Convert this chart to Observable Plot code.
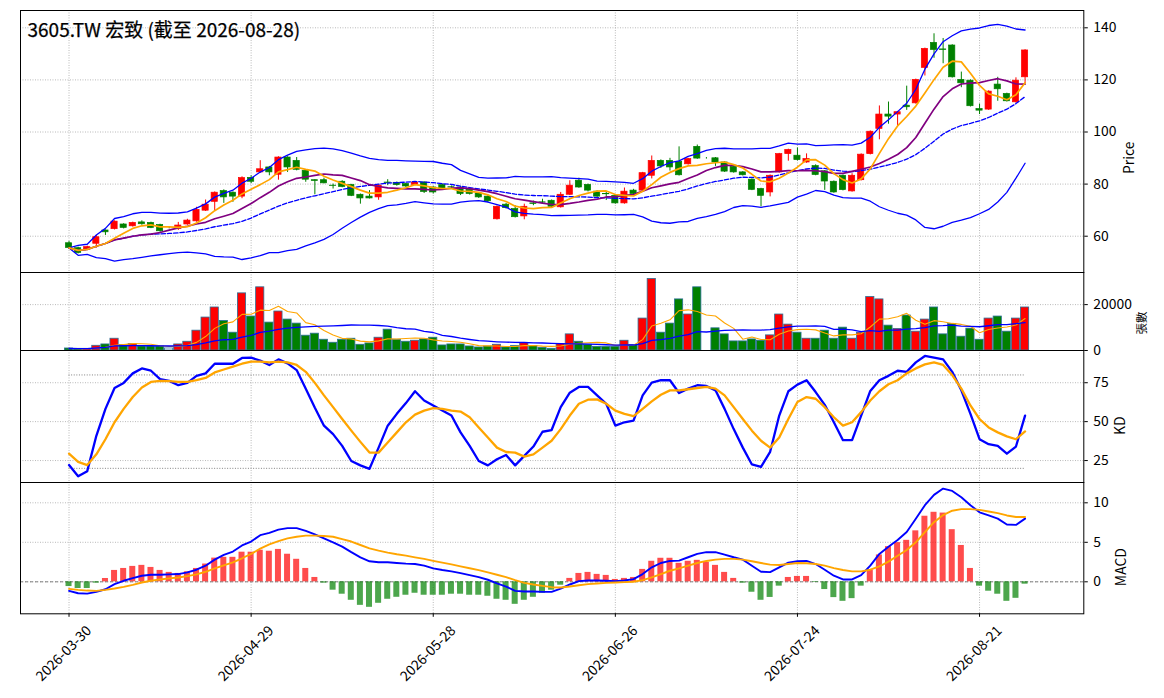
<!DOCTYPE html>
<html><head><meta charset="utf-8">
<script src="https://cdn.jsdelivr.net/npm/d3@7"></script>
<script src="https://cdn.jsdelivr.net/npm/@observablehq/plot@0.6"></script>
<style>
body{margin:0;background:#fff;}
#wrap{position:relative;width:1164px;height:698px;font-family:"Noto Sans CJK TC",sans-serif;}
#wrap > div{position:absolute;left:0;}
svg{overflow:visible;}
</style></head><body><div id="wrap"></div>
<script>
const title = "3605.TW 宏致 (截至 2026-08-28)";
const tickIndex = [0, 20, 40, 60, 80, 100];
const tickLabels = ["2026-03-30", "2026-04-29", "2026-05-28", "2026-06-26", "2026-07-24", "2026-08-21"];

const openP = [57.3,55.4,54.9,57.1,62.2,62.7,64.5,63.8,65.3,65.1,64.3,63.1,62.8,64.5,65.7,69.8,73.2,77.3,76.7,75.2,
  82.4,84.5,86.4,83.6,90.2,88.9,85.1,81.5,81.5,79.4,80.9,79.6,75.9,75.2,74.9,80.6,80.5,80.0,79.7,80.6,
  78.7,79.6,78.8,78.7,77.8,76.4,75.2,66.5,72.1,70.4,67.6,72.6,73.0,73.6,71.1,75.9,81.3,79.7,77.1,76.2,
  75.5,72.6,77.5,77.5,83.2,88.9,88.9,88.5,87.6,94.3,89.9,89.9,88.3,86.6,84.5,81.7,78.1,76.8,84.5,91.5,
  90.9,88.3,86.9,84.9,80.9,83.2,77.2,81.5,91.5,101.2,106.7,106.7,110.1,111.0,124.6,134.2,131.7,133.2,120.0,119.7,
  108.8,108.6,118.2,114.6,111.4,121.0];
const highP = [58.0,55.8,56.2,60.3,62.4,65.9,64.8,65.4,65.9,65.4,64.6,63.4,65.3,66.5,71.1,73.9,77.0,77.8,77.0,82.8,
  83.2,89.0,86.8,90.5,90.5,90.2,85.4,81.7,82.3,80.0,81.3,79.9,76.2,77.5,79.7,81.7,80.8,80.3,80.9,80.9,
  79.0,80.0,79.3,79.0,78.1,76.7,75.5,71.6,72.6,71.7,72.3,73.5,74.2,73.9,76.8,81.3,82.3,80.0,77.4,76.8,
  75.8,78.5,78.0,84.5,90.8,89.3,89.9,94.3,89.9,95.0,90.2,90.2,88.6,86.9,84.8,82.0,78.4,83.5,91.8,93.4,
  93.9,91.6,87.4,85.2,81.2,83.5,84.0,91.6,100.4,110.0,111.5,107.9,117.6,120.3,132.2,137.7,135.9,133.5,123.0,120.0,
  110.7,115.8,121.0,114.9,120.8,131.6];
const lowP = [55.0,53.2,54.6,55.4,60.3,62.4,62.8,63.5,64.2,62.9,61.5,62.8,62.2,64.2,65.4,69.5,69.8,72.6,73.0,74.4,
  80.2,84.2,83.2,81.5,84.5,85.1,80.7,75.9,80.1,78.1,78.6,75.2,72.3,74.3,73.8,79.4,79.2,78.7,79.4,76.4,
  76.2,77.6,78.2,75.6,75.8,74.5,72.9,66.2,70.4,67.0,66.3,71.7,72.4,71.0,70.8,75.6,78.4,77.0,74.9,73.7,
  72.3,72.3,75.9,77.2,82.0,86.0,85.0,83.1,87.3,89.5,89.6,86.8,84.5,84.2,83.1,77.5,71.3,75.1,84.2,88.8,
  88.9,88.0,83.2,77.6,76.5,77.4,76.9,81.2,91.2,97.0,103.0,102.5,108.3,110.7,121.5,128.3,126.2,120.7,117.0,109.6,
  106.7,108.3,111.8,111.5,111.1,118.5];
const closeP = [55.5,53.6,55.8,59.6,61.5,65.6,63.2,65.1,64.6,63.2,61.9,63.1,64.1,66.0,70.1,72.1,76.7,74.9,75.2,82.3,
  80.9,85.7,84.5,90.2,86.4,85.5,81.7,81.2,80.3,79.3,78.9,75.5,74.5,74.5,79.4,80.4,79.6,79.1,80.6,77.0,
  76.8,78.1,78.7,76.2,76.2,74.9,73.4,71.3,70.8,67.3,71.3,72.4,72.9,71.3,75.9,79.4,78.7,77.5,75.2,76.1,
  72.6,77.1,76.2,84.2,88.9,86.8,86.4,83.4,89.6,89.8,89.9,88.3,84.8,84.5,83.4,77.8,75.5,83.2,91.5,93.1,
  89.2,89.6,83.5,81.0,76.8,77.7,83.2,91.3,100.1,106.7,105.9,107.6,109.5,120.0,131.9,131.5,131.5,121.0,118.7,109.9,
  108.2,115.5,116.4,111.8,119.7,131.3];
const volume = [880,730,730,2050,2640,5130,2340,2780,1760,1760,1760,880,2640,3810,8640,14360,18750,12890,7760,24900,
  14800,27540,12160,16990,13480,11720,6450,7330,4690,3370,4690,5130,2490,3080,5570,9080,4690,3810,4250,4830,
  5570,2200,2640,2640,1760,1320,1760,2490,1320,1900,3220,1900,1170,730,2780,7030,3810,2490,1610,1610,
  1610,4250,2340,13920,31200,7760,11720,22270,15680,27540,0,9670,7030,3960,3960,4830,4250,6590,15680,11280,
  7760,5130,5130,8640,5130,9960,5130,7760,23290,22270,10840,9380,15240,8200,13480,18750,7030,11570,6010,9520,
  4690,13920,14800,8200,13920,18750];
const kLine = [22.1,14.9,18.2,40.9,58.2,71.6,74.9,81.0,84.2,82.7,77.3,76.2,73.4,74.9,79.4,81.0,87.2,87.2,87.2,90.9,
  91.1,89.2,86.4,90.0,87.4,83.1,71.2,58.9,47.4,42.0,34.4,24.7,21.9,19.7,33.3,47.4,55.0,61.9,69.5,63.6,
  60.4,57.1,53.9,43.1,34.4,24.7,21.9,25.8,28.6,21.9,28.0,34.0,43.5,44.6,59.3,68.6,72.3,72.3,66.9,61.5,
  47.4,49.6,50.6,66.9,75.1,76.6,76.6,68.4,71.2,73.4,72.9,70.1,58.2,45.2,33.3,22.5,21.0,30.6,53.9,69.5,
  73.8,76.6,69.0,60.8,49.6,38.1,38.1,53.9,69.7,76.6,79.4,82.7,82.0,88.1,92.2,91.1,90.0,82.0,70.1,55.0,
  38.7,35.5,34.4,29.4,34.0,53.9];
const dLine = [29.4,24.2,22.1,29.0,38.7,49.6,58.2,65.8,71.9,75.5,76.2,76.0,75.5,75.5,76.6,78.1,81.6,83.5,85.3,87.2,
  88.5,88.5,88.1,88.5,88.1,86.4,82.0,74.9,66.9,59.3,51.7,44.2,37.0,30.1,30.1,36.6,43.1,49.6,54.5,57.1,
  58.7,58.2,57.1,56.5,52.8,46.3,39.8,33.3,30.5,30.1,27.5,29.0,33.3,37.7,45.2,53.9,61.5,64.1,64.3,61.5,
  57.1,55.0,53.5,58.2,63.0,67.3,70.1,70.1,70.8,71.6,72.3,71.2,66.9,59.3,51.7,44.2,37.7,33.3,39.8,51.7,
  62.6,65.8,64.7,59.3,52.8,47.4,49.6,56.1,63.6,69.5,74.0,76.6,81.0,84.2,86.8,88.1,86.4,79.9,71.2,60.4,
  51.7,46.3,43.1,40.5,38.7,43.7];
const macdDif = [-1.15,-1.45,-1.49,-1.28,-0.94,-0.30,0.13,0.47,0.77,0.89,0.89,0.94,0.98,1.19,1.53,2.04,2.81,3.40,3.83,4.6,
  5.1,5.9,6.2,6.6,6.8,6.8,6.45,6.0,5.5,5.0,4.45,3.75,3.1,2.6,2.47,2.47,2.38,2.30,2.25,2.04,
  1.70,1.49,1.32,1.1,0.85,0.6,0.26,-0.21,-0.6,-1.15,-1.23,-1.23,-1.28,-1.28,-0.85,-0.34,0.09,0.17,0.17,0.13,
  0.09,0.17,0.34,0.98,1.83,2.38,2.64,2.68,3.11,3.53,3.75,3.75,3.45,3.11,2.81,2.04,1.28,1.23,1.83,2.43,
  2.6,2.64,2.25,1.53,0.77,0.30,0.30,0.85,2.04,3.53,4.45,5.29,6.3,7.98,9.7,11.0,11.8,11.5,10.7,9.7,
  8.8,8.4,8.0,7.25,7.2,8.0];
const macdSignal = [-0.89,-1.02,-1.11,-1.15,-1.02,-0.85,-0.64,-0.38,-0.09,0.13,0.30,0.43,0.55,0.72,0.94,1.27,1.69,2.08,2.47,2.98,
  3.53,4.2,4.75,5.16,5.5,5.7,5.85,5.85,5.8,5.7,5.4,5.1,4.66,4.24,3.95,3.70,3.49,3.32,3.1,2.9,
  2.65,2.42,2.2,1.95,1.72,1.48,1.2,0.89,0.6,0.21,-0.13,-0.34,-0.51,-0.68,-0.72,-0.6,-0.43,-0.30,-0.21,-0.13,
  -0.09,-0.04,0.0,0.21,0.55,0.98,1.40,1.70,2.04,2.38,2.64,2.81,2.9,2.9,2.81,2.6,2.38,2.17,2.13,2.25,
  2.38,2.34,2.25,2.04,1.74,1.49,1.32,1.32,1.53,1.96,2.55,3.3,4.03,5.0,6.3,7.55,8.45,9.0,9.2,9.2,
  9.1,8.9,8.7,8.4,8.2,8.2];
const macdHist = [-0.6,-0.85,-0.85,-0.17,0.42,1.44,1.69,1.95,2.08,1.82,1.44,1.19,1.06,1.27,1.69,2.25,3.0,3.1,3.1,3.75,
  3.75,4.0,3.87,4.1,3.49,2.85,1.69,0.55,-0.17,-1.06,-1.57,-2.34,-2.98,-3.23,-2.72,-2.21,-1.96,-1.70,-1.45,-1.70,
  -1.70,-1.70,-1.57,-1.57,-1.70,-1.70,-1.83,-2.21,-2.34,-2.85,-2.34,-1.96,-1.45,-1.06,-0.43,0.43,1.06,1.19,0.94,0.81,
  0.30,0.43,0.55,1.57,2.6,2.98,2.98,2.34,2.6,2.72,2.47,2.08,1.19,0.43,-0.17,-1.32,-2.34,-1.98,-0.55,0.55,
  0.68,0.68,-0.08,-0.98,-2.0,-2.47,-2.13,-0.55,1.49,3.4,4.45,4.96,5.25,6.45,8.3,8.8,8.7,6.6,4.6,1.69,
  -0.55,-1.19,-1.57,-2.47,-2.09,-0.3];

// moving averages / Bollinger bands computed from the closes (expanding window at the start)
function sma(arr, n) { return arr.map((_, i) => d3.mean(arr.slice(Math.max(0, i - n + 1), i + 1))); }
function pstd(arr, n) {
  return arr.map((_, i) => { const s = arr.slice(Math.max(0, i - n + 1), i + 1); const m = d3.mean(s);
    return Math.sqrt(d3.mean(s, v => (v - m) * (v - m))); });
}
const ma5 = sma(closeP, 5), ma10 = sma(closeP, 10), ma20 = sma(closeP, 20), sd20 = pstd(closeP, 20);
const vma5 = sma(volume, 5), vma20 = sma(volume, 20);

const rows = closeP.map((c, i) => ({
  i, o: openP[i], h: highP[i], l: lowP[i], c, v: volume[i],
  ma5: ma5[i], ma10: ma10[i], ma20: ma20[i], up: ma20[i] + 2 * sd20[i], dn: ma20[i] - 2 * sd20[i],
  vma5: vma5[i], vma20: vma20[i], k: kLine[i], d: dLine[i], dif: macdDif[i], sig: macdSignal[i], hist: macdHist[i]
}));

const RED = "#ff0000", GREEN = "#008000";
const candleColor = d => d.c > d.o ? RED : GREEN;
const volColor = d => d.c > d.o ? RED : d.c < d.o ? GREEN : "#ffffff";
const FONT = "'Noto Sans CJK TC', 'Noto Sans', sans-serif";
const xDom = [-5.33, 111.45];
const gridStyle = {stroke: "#a8a8a8", strokeOpacity: 1, strokeDasharray: "0.9,1.6", strokeWidth: 0.9};
const common = {
  width: 1164, marginLeft: 20, marginRight: 80.7,
  style: {fontFamily: FONT, fontSize: "13.9px", background: "transparent", overflow: "visible", color: "#000"}
};
const yAxis = (ticks, fmt) => Plot.axisY(ticks, {anchor: "right", tickSize: 3.5, tickPadding: 6, label: null,
  tickFormat: fmt || (d => String(d)), fontSize: 13.9});
const sideLabel = (txt, dx, size) => Plot.text([txt], {frameAnchor: "right", dx, rotate: -90, fontSize: size || 13.9, fill: "#000"});

const pricePlot = Plot.plot({
  ...common, height: 272, marginTop: 10, marginBottom: 0,
  x: {type: "linear", domain: xDom, axis: null},
  y: {type: "linear", domain: [46.07, 146.64]},
  marks: [
    Plot.gridX(tickIndex, gridStyle),
    Plot.gridY([60, 80, 100, 120, 140], gridStyle),
    Plot.ruleX(rows, {x: "i", y1: "l", y2: "h", stroke: candleColor, strokeWidth: 1}),
    Plot.rect(rows, {x1: d => d.i - 0.34, x2: d => d.i + 0.34, y1: "o", y2: "c", fill: candleColor, stroke: candleColor, strokeWidth: 0.7}),
    Plot.line(rows, {x: "i", y: "up", stroke: "#0000ff", strokeWidth: 1.3}),
    Plot.line(rows, {x: "i", y: "dn", stroke: "#0000ff", strokeWidth: 1.3}),
    Plot.line(rows, {x: "i", y: "ma20", stroke: "#0000ff", strokeWidth: 1.3, strokeDasharray: "4.4,1.9"}),
    Plot.line(rows, {x: "i", y: "ma10", stroke: "#800080", strokeWidth: 1.7}),
    Plot.line(rows, {x: "i", y: "ma5", stroke: "#ffa500", strokeWidth: 1.7}),
    yAxis([60, 80, 100, 120, 140]),
    Plot.frame({stroke: "#000", strokeWidth: 1}),
    Plot.text([title], {frameAnchor: "top-left", dx: 7, dy: 12.5, textAnchor: "start", lineAnchor: "top", fontSize: 19, fontWeight: 400, stroke: "#000", strokeWidth: 0.25, fill: "#000"}),
    sideLabel("Price", 46)
  ]
});

const volPlot = Plot.plot({
  ...common, height: 78, marginTop: 0, marginBottom: 0,
  x: {type: "linear", domain: xDom, axis: null},
  y: {type: "linear", domain: [0, 34000]},
  marks: [
    Plot.gridX(tickIndex, gridStyle),
    Plot.gridY([0, 20000], gridStyle),
    Plot.rect(rows.filter(d => d.v > 0), {x1: d => d.i - 0.45, x2: d => d.i + 0.45, y1: 0, y2: "v", fill: volColor, stroke: "#2a6f97", strokeWidth: 0.8}),
    Plot.line(rows, {x: "i", y: "vma5", stroke: "#ffa500", strokeWidth: 1.1}),
    Plot.line(rows, {x: "i", y: "vma20", stroke: "#0000ff", strokeWidth: 1.3}),
    yAxis([0, 20000]),
    Plot.frame({stroke: "#000", strokeWidth: 1}),
    sideLabel("張數", 59, 11.5)
  ]
});

const kdPlot = Plot.plot({
  ...common, height: 132, marginTop: 0, marginBottom: 0,
  x: {type: "linear", domain: xDom, axis: null},
  y: {type: "linear", domain: [10.9, 95.7]},
  marks: [
    Plot.gridX(tickIndex, gridStyle),
    Plot.gridY([25, 50, 75], gridStyle),
    Plot.ruleY([80, 20], {x1: 0, x2: 105, stroke: "#808080", strokeDasharray: "1,1.6", strokeWidth: 1}),
    Plot.line(rows, {x: "i", y: "k", stroke: "#0000ff", strokeWidth: 2.3}),
    Plot.line(rows, {x: "i", y: "d", stroke: "#ffa500", strokeWidth: 2.3}),
    yAxis([25, 50, 75]),
    Plot.frame({stroke: "#000", strokeWidth: 1}),
    sideLabel("KD", 37)
  ]
});

const macdPlot = Plot.plot({
  ...common, height: 216, marginTop: 0, marginBottom: 84.7,
  x: {type: "linear", domain: xDom},
  y: {type: "linear", domain: [-4.05, 12.57]},
  marks: [
    Plot.gridX(tickIndex, gridStyle),
    Plot.gridY([0, 5, 10], gridStyle),
    Plot.ruleY([0], {stroke: "#808080", strokeDasharray: "3,2", strokeWidth: 1}),
    Plot.rect(rows, {x1: d => d.i - 0.33, x2: d => d.i + 0.33, y1: 0, y2: "hist", fill: d => d.hist >= 0 ? RED : GREEN, fillOpacity: 0.7}),
    Plot.line(rows, {x: "i", y: "dif", stroke: "#0000ff", strokeWidth: 1.9}),
    Plot.line(rows, {x: "i", y: "sig", stroke: "#ffa500", strokeWidth: 1.9}),
    yAxis([0, 5, 10]),
    Plot.axisX(tickIndex, {anchor: "bottom", tickSize: 3.5, tickFormat: () => "", label: null}),
    Plot.text(tickIndex, {x: d => d, frameAnchor: "bottom", dx: -2, dy: 43, rotate: -45, text: (d, k) => tickLabels[k], fontSize: 13.9, fill: "#000"}),
    Plot.frame({stroke: "#000", strokeWidth: 1}),
    sideLabel("MACD", 38)
  ]
});

const wrap = document.getElementById("wrap");
[[pricePlot, 0], [volPlot, 272], [kdPlot, 350], [macdPlot, 482]].forEach(([p, top]) => {
  const div = document.createElement("div");
  div.style.top = top + "px";
  div.appendChild(p);
  wrap.appendChild(div);
});
</script>
</body></html>
